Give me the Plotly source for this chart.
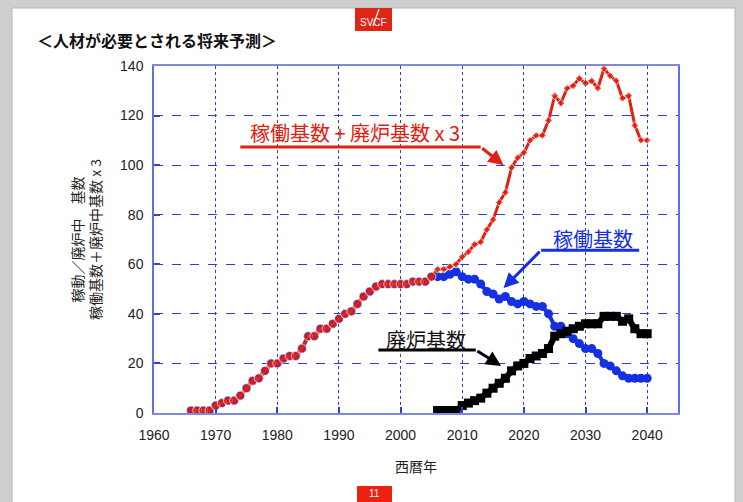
import plotly.graph_objects as go

# ---------------- data ----------------
years = list(range(1966, 2041))
operating = [1, 1, 1, 1, 3, 4, 5, 5, 7, 10,
             13, 14, 17, 20, 20, 22, 23, 23, 26, 31,
             31, 34, 34, 36, 38, 40, 41, 44, 47, 49,
             51, 52, 52, 52, 52, 52, 53, 53, 53, 55,
             55, 55, 56, 57, 55, 54, 54, 52, 49, 48,
             46, 47, 45, 44, 45, 44, 43, 43, 40, 35,
             35, 32, 30, 28, 26, 26, 24, 20, 19, 17,
             15, 14, 14, 14, 14]
combined = [1, 1, 1, 1, 3, 4, 5, 5, 7, 10,
            13, 14, 17, 20, 20, 22, 23, 23, 26, 31,
            31, 34, 34, 36, 38, 40, 41, 44, 47, 49,
            51, 52, 52, 52, 52, 52, 53, 53, 53, 55,
            58, 58, 59, 60, 63, 65, 68, 69, 74, 78,
            85, 89, 99, 103, 105, 110, 112, 112, 118, 128,
            125, 131, 132, 135, 133, 134, 131, 139, 136, 134,
            127, 128, 116, 110, 110]
decom_years = list(range(2006, 2041))
decommission = [1, 1, 1, 1, 3, 4, 5, 6, 8, 10,
                12, 14, 17, 19, 20, 22, 23, 24, 26, 31,
                32, 33, 34, 35, 36, 36, 36, 39, 39, 39,
                37, 38, 34, 32, 32]

x_ticks = [1960, 1970, 1980, 1990, 2000, 2010, 2020, 2030, 2040]
y_ticks = [0, 20, 40, 60, 80, 100, 120, 140]

RED = "#e3200f"
BLUE = "#1530e0"
BLACK = "#000000"
JP = "Noto Sans CJK JP"
NUM = "Liberation Sans"

fig = go.Figure()

fig.add_trace(go.Scatter(
    x=years, y=operating, mode="lines+markers",
    line=dict(color=BLUE, width=4),
    marker=dict(symbol="circle", size=9, color=BLUE),
    showlegend=False, hoverinfo="skip"))

fig.add_trace(go.Scatter(
    x=decom_years, y=decommission, mode="lines+markers",
    line=dict(color=BLACK, width=6),
    marker=dict(symbol="square", size=9, color=BLACK),
    showlegend=False, hoverinfo="skip"))

red_sym = ["circle" if y <= 2005 else "diamond" for y in years]
red_size = [9 if y <= 2005 else 6 for y in years]
fig.add_trace(go.Scatter(
    x=years, y=combined, mode="lines+markers",
    line=dict(color=RED, width=3),
    marker=dict(symbol=red_sym, size=red_size, color=RED),
    showlegend=False, hoverinfo="skip"))

# ---------------- layout ----------------
L, T, W, H = 154, 66, 524, 347  # plot area in px


def px(xp):
    return (xp - L) / W


def py(yp):
    return (T + H - yp) / H


shapes = [
    # white slide panel over grey border
    dict(type="rect", xref="paper", yref="paper",
         x0=px(12), x1=px(735), y0=py(515), y1=py(8),
         fillcolor="white", line=dict(color="#b8b8b8", width=1), layer="below"),
    # logo box
    dict(type="rect", xref="paper", yref="paper",
         x0=px(355), x1=px(392), y0=py(31), y1=py(8),
         fillcolor="#e02418", line=dict(width=0), layer="above"),
    dict(type="line", xref="paper", yref="paper",
         x0=px(379), x1=px(373), y0=py(9), y1=py(26),
         line=dict(color="white", width=1.2)),
    # page number box
    dict(type="rect", xref="paper", yref="paper",
         x0=px(357), x1=px(392), y0=py(502), y1=py(486),
         fillcolor="#f02010", line=dict(width=0), layer="above"),
    # leader lines (horizontal parts)
    dict(type="line", xref="x", yref="y", x0=1974.0, x1=2013.0, y0=107.3, y1=107.3,
         line=dict(color=RED, width=3)),
    dict(type="line", xref="x", yref="y", x0=2022.8, x1=2038.7, y0=65.7, y1=65.7,
         line=dict(color=BLUE, width=3)),
    dict(type="line", xref="x", yref="y", x0=1996.4, x1=2012.2, y0=25.4, y1=25.4,
         line=dict(color=BLACK, width=3)),
]

annotations = [
    dict(text="<b>＜人材が必要とされる将来予測＞</b>", xref="paper", yref="paper",
         x=px(35), y=py(40), xanchor="left", yanchor="middle", showarrow=False,
         font=dict(family=JP, size=16, color="#111111")),
    dict(text="SVCF", xref="paper", yref="paper", x=px(373.5), y=py(22),
         xanchor="center", yanchor="middle", showarrow=False,
         font=dict(family=NUM, size=10, color="white")),
    dict(text="11", xref="paper", yref="paper", x=px(374.5), y=py(494),
         xanchor="center", yanchor="middle", showarrow=False,
         font=dict(family=NUM, size=10, color="white")),
    dict(text="西暦年", xref="paper", yref="paper", x=0.5, y=py(466),
         xanchor="center", yanchor="middle", showarrow=False,
         font=dict(family=JP, size=14, color="#222222")),
    dict(text="稼動／廃炉中　基数<br>稼働基数＋廃炉中基数 x 3", xref="paper", yref="paper",
         x=px(86), y=py(240), xanchor="center", yanchor="middle", showarrow=False,
         textangle=-90, font=dict(family=JP, size=14, color="#222222")),
    # series labels
    dict(text="稼働基数 + 廃炉基数 x 3", xref="x", yref="y", x=1992.6, y=113.2,
         xanchor="center", yanchor="middle", showarrow=False,
         font=dict(family=JP, size=20, color=RED)),
    dict(text="稼働基数", xref="x", yref="y", x=2031.2, y=70.4,
         xanchor="center", yanchor="middle", showarrow=False,
         font=dict(family=JP, size=20, color=BLUE)),
    dict(text="廃炉基数", xref="x", yref="y", x=2004.2, y=29.8,
         xanchor="center", yanchor="middle", showarrow=False,
         font=dict(family=JP, size=20, color="#111111")),
    # arrows (diagonal parts)
    dict(text="", x=2016.7, y=100.0, ax=2013.0, ay=107.3, xref="x", yref="y",
         axref="x", ayref="y", showarrow=True, arrowhead=2, arrowsize=1,
         arrowwidth=3, arrowcolor=RED),
    dict(text="", x=2016.7, y=50.4, ax=2022.8, ay=65.7, xref="x", yref="y",
         axref="x", ayref="y", showarrow=True, arrowhead=2, arrowsize=1,
         arrowwidth=3, arrowcolor=BLUE),
    dict(text="", x=2016.3, y=19.0, ax=2012.2, ay=25.4, xref="x", yref="y",
         axref="x", ayref="y", showarrow=True, arrowhead=2, arrowsize=1,
         arrowwidth=3, arrowcolor=BLACK),
]

fig.update_layout(
    width=743, height=502,
    margin=dict(l=L, r=743 - L - W, t=T, b=502 - T - H, pad=0),
    paper_bgcolor="#cfcfcf", plot_bgcolor="white",
    shapes=shapes, annotations=annotations,
    xaxis=dict(range=[1960, 2045], tickvals=x_ticks, ticktext=[str(v) for v in x_ticks],
               showgrid=True, gridcolor="#2a3fd0", griddash="dot", gridwidth=1,
               showline=True, linecolor="#8088e0", linewidth=1.5, mirror=True,
               ticks="inside", ticklen=6, tickcolor="#3040d0", tickwidth=1.5,
               ticklabelstandoff=8,
               tickfont=dict(family=NUM, size=14, color="#222222"),
               zeroline=False, fixedrange=True),
    yaxis=dict(range=[0, 140], tickvals=y_ticks, ticktext=[str(v) for v in y_ticks],
               showgrid=True, gridcolor="#2a3fd0", griddash="dash", gridwidth=1,
               showline=True, linecolor="#6070e0", linewidth=1.5, mirror=True,
               ticks="inside", ticklen=6, tickcolor="#3040d0", tickwidth=1.5,
               ticklabelstandoff=6,
               tickfont=dict(family=NUM, size=14, color="#222222"),
               zeroline=False, fixedrange=True),
)

fig.write_html(
    "out.html",
    config={"displayModeBar": False},
    post_script="document.body.style.margin='0';document.body.style.overflow='hidden';",
)
